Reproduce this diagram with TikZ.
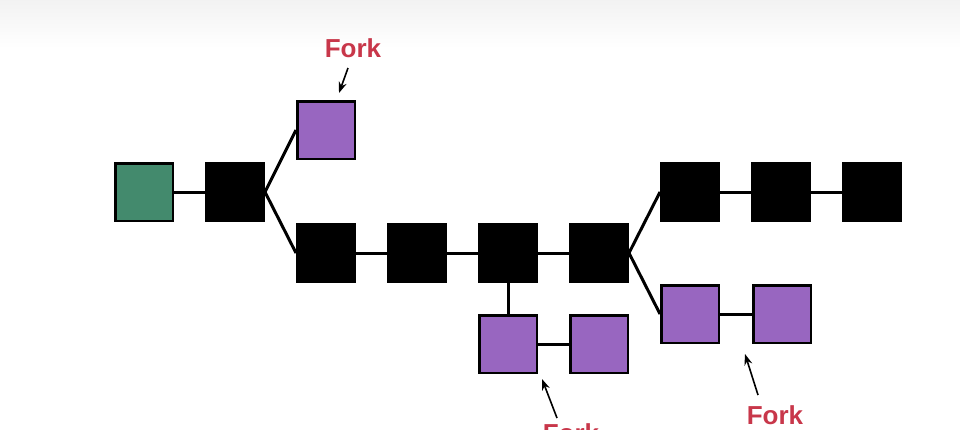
\documentclass[tikz,border=0pt]{standalone}
\usepackage{fontspec}
\setmainfont{Liberation Sans}
\usetikzlibrary{arrows.meta}
\definecolor{gen}{HTML}{438A6D}
\definecolor{frk}{HTML}{9866C0}
\definecolor{lbl}{HTML}{C8374A}
\begin{document}
\begin{tikzpicture}[x=1pt,y=-1pt,
  box/.style={draw=black,line width=2.5pt,minimum size=57.5pt,inner sep=0pt},
  blk/.style={box,fill=black},
  prp/.style={box,fill=frk},
  grn/.style={box,fill=gen},
  conn/.style={line width=3pt,black},
  lab/.style={text=lbl,font=\fontsize{26}{30}\selectfont\bfseries,inner sep=0pt},
  arr/.style={line width=1.6pt,-{Stealth[length=11pt,width=8pt]}}]
\useasboundingbox (0,0) rectangle (960,429);
\shade[top color=black!5,bottom color=white] (0,0) rectangle (960,48);
% main chain
\node[grn] (g)  at (144,192) {};
\node[blk] (b1) at (235,192) {};
\node[prp] (p1) at (326,130) {};
\node[blk] (m1) at (326,253) {};
\node[blk] (m2) at (417,253) {};
\node[blk] (m3) at (508,253) {};
\node[blk] (m4) at (599,253) {};
\node[blk] (t1) at (690,192) {};
\node[blk] (t2) at (781,192) {};
\node[blk] (t3) at (872,192) {};
\node[prp] (r1) at (690,314) {};
\node[prp] (r2) at (782,314) {};
\node[prp] (d1) at (508,344) {};
\node[prp] (d2) at (599,344) {};
% connectors
\draw[conn] (g.east) -- (b1.west);
\draw[conn] (b1.east) -- (p1.west);
\draw[conn] (b1.east) -- (m1.west);
\draw[conn] (m1.east) -- (m2.west);
\draw[conn] (m2.east) -- (m3.west);
\draw[conn] (m3.east) -- (m4.west);
\draw[conn] (m4.east) -- (t1.west);
\draw[conn] (t1.east) -- (t2.west);
\draw[conn] (t2.east) -- (t3.west);
\draw[conn] (m4.east) -- (r1.west);
\draw[conn] (r1.east) -- (r2.west);
\draw[conn] (m3.south) -- (d1.north);
\draw[conn] (d1.east) -- (d2.west);
% labels
\node[lab,anchor=base] (f1) at (353,57) {Fork};
\node[lab,anchor=base] (f2) at (571,442) {Fork};
\node[lab,anchor=base] (f3) at (775,424) {Fork};
\coordinate (a1t) at (348,68);  \coordinate (a1h) at (339,93);
\coordinate (a2t) at (557,418); \coordinate (a2h) at (542,379);
\coordinate (a3t) at (758,395); \coordinate (a3h) at (745,354);
\draw[arr] (a1t) -- (a1h);
\draw[arr] (a2t) -- (a2h);
\draw[arr] (a3t) -- (a3h);
\end{tikzpicture}
\end{document}
